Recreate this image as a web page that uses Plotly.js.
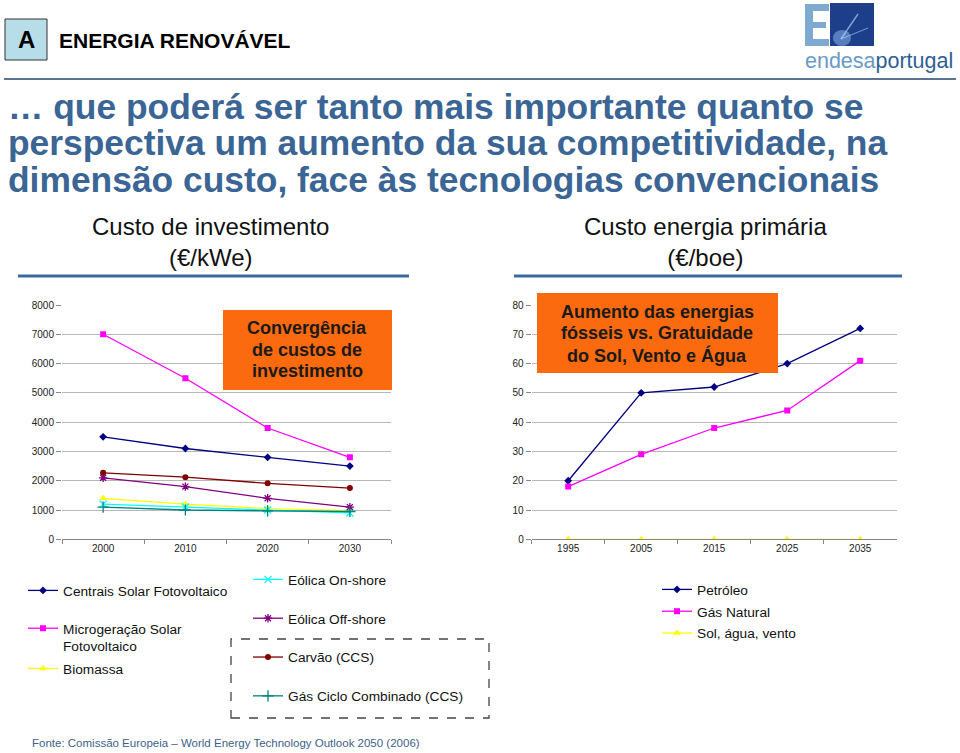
<!DOCTYPE html>
<html>
<head>
<meta charset="utf-8">
<script src="https://cdn.plot.ly/plotly-3.0.1.min.js"></script>
<style>
html,body{margin:0;padding:0;background:#fff;}
#chart{width:960px;height:753px;}
</style>
</head>
<body>
<div id="chart"></div>
<script>
// ---- data: left chart (Custo de investimento, €/kWe) ----
const leftYears = ['2000', '2010', '2020', '2030'];
const solarPV = [3500, 3100, 2800, 2500];
const microPV = [7000, 5500, 3800, 2800];
const biomassa = [1400, 1200, 1050, 980];
const eolicaOn = [1200, 1100, 1000, 900];
const eolicaOff = [2100, 1800, 1400, 1100];
const carvao = [2270, 2120, 1910, 1750];
const gasCCS = [1100, 1000, 970, 950];
const leftTicks = [0, 1000, 2000, 3000, 4000, 5000, 6000, 7000, 8000];

// ---- data: right chart (Custo energia primária, €/boe) ----
const rightYears = ['1995', '2005', '2015', '2025', '2035'];
const petroleo = [20, 50, 52, 60, 72];
const gasNatural = [18, 29, 38, 44, 61];
const solAguaVento = [0, 0, 0, 0, 0];
const rightTicks = [0, 10, 20, 30, 40, 50, 60, 70, 80];

const FONT = 'Arial, "Liberation Sans", sans-serif';
const H = 753, W = 960;
const py = p => 1 - p / H;
const px = p => p / W;

function tr(x, y, name, color, symbol, xa, ya, legend, size) {
  const open = symbol.indexOf('open') >= 0;
  return {
    type: 'scatter', mode: 'lines+markers', x: x, y: y, name: name,
    xaxis: xa, yaxis: ya, legend: legend, legendgroup: name,
    line: {color: color, width: 1.3},
    marker: {color: color, symbol: symbol, size: size || 6,
      line: {color: color, width: open ? 1.3 : 0}},
    hoverinfo: 'x+y+name'
  };
}

const traces = [
  tr(leftYears, solarPV, 'Centrais Solar Fotovoltaico', '#000080', 'diamond', 'x', 'y', 'legend', 6),
  tr(leftYears, microPV, 'Microgeração Solar<br>Fotovoltaico', '#ff00ff', 'square', 'x', 'y', 'legend', 6),
  tr(leftYears, biomassa, 'Biomassa', '#ffff00', 'triangle-up', 'x', 'y', 'legend2', 7),
  tr(leftYears, eolicaOn, 'Eólica On-shore', '#00ffff', 'x-thin-open', 'x', 'y', 'legend3', 7),
  tr(leftYears, eolicaOff, 'Eólica Off-shore', '#800080', 'asterisk-open', 'x', 'y', 'legend3', 7),
  tr(leftYears, carvao, 'Carvão (CCS)', '#800000', 'circle', 'x', 'y', 'legend3', 6),
  tr(leftYears, gasCCS, 'Gás Ciclo Combinado (CCS)', '#008080', 'cross-thin-open', 'x', 'y', 'legend3', 8),
  tr(rightYears, petroleo, 'Petróleo', '#000080', 'diamond', 'x2', 'y2', 'legend4', 6),
  tr(rightYears, gasNatural, 'Gás Natural', '#ff00ff', 'square', 'x2', 'y2', 'legend4', 6),
  tr(rightYears, solAguaVento, 'Sol, água, vento', '#ffff00', 'triangle-up', 'x2', 'y2', 'legend4', 7)
];

const xBase = {
  type: 'category', tickson: 'boundaries', ticks: 'outside', ticklen: 4,
  tickcolor: '#888', showline: true, linecolor: '#888', linewidth: 1,
  showgrid: false, zeroline: false, fixedrange: true,
  tickfont: {family: FONT, size: 10, color: '#222'}
};
const yBase = {
  ticks: 'outside', ticklen: 5, tickcolor: '#888', showline: false,
  showgrid: true, gridcolor: '#b8b8b8', gridwidth: 1, zeroline: false,
  fixedrange: true, tickfont: {family: FONT, size: 10, color: '#222'}
};

const legBase = {
  bgcolor: 'rgba(0,0,0,0)', borderwidth: 0, xanchor: 'left', yanchor: 'top',
  font: {family: FONT, size: 13.7, color: '#111'}, traceorder: 'grouped',
  itemclick: false, itemdoubleclick: false, valign: 'top'
};

const ann = (x, y, text, size, color, opts) => Object.assign({
  xref: 'paper', yref: 'paper', x: px(x), y: py(y), text: text, showarrow: false,
  xanchor: 'left', yanchor: 'middle',
  font: {family: FONT, size: size, color: color}
}, opts || {});

const R = (x0, x1, y0, y1, fill, extra) => Object.assign({
  type: 'rect', xref: 'paper', yref: 'paper', x0: px(x0), x1: px(x1), y0: py(y1), y1: py(y0),
  fillcolor: fill, line: {width: 0}
}, extra || {});

const layout = {
  width: W, height: H, autosize: false,
  margin: {l: 0, r: 0, t: 0, b: 0, pad: 0},
  paper_bgcolor: '#fff', plot_bgcolor: 'rgba(0,0,0,0)',
  showlegend: true,
  xaxis: Object.assign({}, xBase, {domain: [px(62), px(391)], range: [-0.5, 3.5], anchor: 'y'}),
  yaxis: Object.assign({}, yBase, {domain: [py(539.3), py(305)], range: [0, 8000],
    tickvals: leftTicks, anchor: 'x'}),
  xaxis2: Object.assign({}, xBase, {domain: [px(531.7), px(896.7)], range: [-0.5, 4.5], anchor: 'y2'}),
  yaxis2: Object.assign({}, yBase, {domain: [py(539.3), py(305)], range: [0, 80],
    tickvals: rightTicks, anchor: 'x2'}),
  legend: Object.assign({}, legBase, {x: px(23), y: py(575), tracegroupgap: 17}),
  legend2: Object.assign({}, legBase, {x: px(23), y: py(653), tracegroupgap: 0}),
  legend3: Object.assign({}, legBase, {x: px(248), y: py(564), tracegroupgap: 18}),
  legend4: Object.assign({}, legBase, {x: px(657), y: py(574), tracegroupgap: 1}),
  shapes: [
    // header "A" box
    R(5, 47, 19, 60, '#b7dde8', {line: {color: '#333', width: 1}}),
    // header rule
    {type: 'line', xref: 'paper', yref: 'paper', x0: px(4), x1: px(956), y0: py(79), y1: py(79),
      line: {color: '#5b7393', width: 2}},
    // subtitle rules
    {type: 'line', xref: 'paper', yref: 'paper', x0: px(18), x1: px(409), y0: py(276), y1: py(276),
      line: {color: '#3d6a9c', width: 3}},
    {type: 'line', xref: 'paper', yref: 'paper', x0: px(514), x1: px(902), y0: py(276), y1: py(276),
      line: {color: '#3d6a9c', width: 3}},
    // orange callout boxes
    R(223, 392, 310, 390, '#fb6a0e', {layer: 'above'}),
    R(537, 778, 293, 373, '#fb6a0e', {layer: 'above'}),
    // dashed box around CCS legend items
    R(231, 489, 639, 718, 'rgba(0,0,0,0)', {line: {color: '#444', width: 1.3, dash: 'dash'}}),
    // logo: light-blue "E" and dark square
    R(805, 813, 4, 46, '#7eaad2'),
    R(805, 829, 4, 11, '#7eaad2'),
    R(805, 826, 22, 28, '#7eaad2'),
    R(805, 829, 39, 46, '#7eaad2'),
    R(830, 874, 3, 46, '#1d3f8a'),
    {type: 'circle', xref: 'paper', yref: 'paper', x0: px(833), x1: px(851), y0: py(46), y1: py(30),
      fillcolor: 'rgba(160,205,250,0.45)', line: {width: 0}},
    {type: 'line', xref: 'paper', yref: 'paper', x0: px(841), x1: px(858), y0: py(39), y1: py(14),
      line: {color: 'rgba(190,225,255,0.6)', width: 1.5}},
    {type: 'line', xref: 'paper', yref: 'paper', x0: px(841), x1: px(868), y0: py(39), y1: py(28),
      line: {color: 'rgba(190,225,255,0.5)', width: 1.2}}
  ],
  annotations: [
    ann(26, 40, '<b>A</b>', 24, '#000', {xanchor: 'center'}),
    ann(57, 41, '<b>ENERGIA RENOVÁVEL</b>', 21, '#000'),
    ann(6, 107, '<b>… que poderá ser tanto mais importante quanto se</b>', 35.4, '#3a6595'),
    ann(6, 143, '<b>perspectiva um aumento da sua competitividade, na</b>', 35.4, '#3a6595'),
    ann(6, 180, '<b>dimensão custo, face às tecnologias convencionais</b>', 35.4, '#3a6595'),
    ann(210, 242, 'Custo de investimento<br>(€/kWe)', 24, '#111', {xanchor: 'center'}),
    ann(705, 242, 'Custo energia primária<br>(€/boe)', 24, '#111', {xanchor: 'center'}),
    ann(307, 328, '<b>Convergência</b>', 18, '#1a1a1a', {xanchor: 'center'}),
    ann(307, 350, '<b>de custos de</b>', 18, '#1a1a1a', {xanchor: 'center'}),
    ann(307, 371, '<b>investimento</b>', 18, '#1a1a1a', {xanchor: 'center'}),
    ann(657, 312, '<b>Aumento das energias</b>', 18, '#1a1a1a', {xanchor: 'center'}),
    ann(657, 333, '<b>fósseis vs. Gratuidade</b>', 18, '#1a1a1a', {xanchor: 'center'}),
    ann(657, 355, '<b>do Sol, Vento e Água</b>', 18, '#1a1a1a', {xanchor: 'center'}),
    ann(30, 743, 'Fonte: Comissão Europeia – World Energy Technology Outlook 2050 (2006)', 11.5, '#3e5f8a'),
    // logo text
    ann(803, 61, '<span style="color:#6a9ac6">endesa</span><span style="color:#2f5f94">portugal</span>', 21.5, '#2f5f94')
  ]
};

Plotly.newPlot('chart', traces, layout, {displayModeBar: false});
</script>
</body>
</html>
